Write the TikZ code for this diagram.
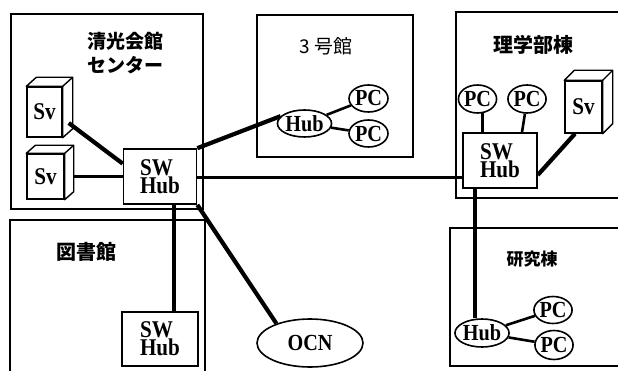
\documentclass[tikz,border=0pt]{standalone}
\usepackage{fontspec}
\setmainfont{Liberation Serif}
\newfontfamily\lat[FakeStretch=0.88]{Liberation Serif}
\newfontfamily\jp{Noto Sans CJK JP}
\usetikzlibrary{shapes.geometric,calc}
\begin{document}
\begin{tikzpicture}[x=1pt,y=-1pt,
  bldg/.style={line width=1.8pt},
  conn/.style={line width=4.2pt},
  mconn/.style={line width=3.2pt},
  pcconn/.style={line width=2.6pt},
  hubbox/.style={draw,line width=1.6pt,fill=white,inner sep=0pt,align=left,
    font=\lat\bfseries\fontsize{24}{18}\selectfont},
  ell/.style={ellipse,draw,line width=1.6pt,fill=white,inner sep=0pt,
    font=\lat\bfseries\fontsize{23}{23}\selectfont},
  svface/.style={draw,line width=1.4pt,fill=white,inner sep=0pt,
    font=\lat\bfseries\fontsize{24}{24}\selectfont},
  svedge/.style={draw,line width=1.4pt,fill=white,line join=round},
  ttl/.style={inner sep=0pt,font=\jp\bfseries\fontsize{19}{19}\selectfont}
]
\useasboundingbox (0,0) rectangle (618,371);
\fill[white] (0,0) rectangle (618,371);

% building outlines
\draw[bldg] (11,14) rectangle (203,209);
\draw[bldg] (10,371) -- (10,220) -- (205,220) -- (205,371);
\draw[bldg] (257,15) rectangle (413,157);
\draw[bldg] (618,12) -- (456,12) -- (456,198) -- (618,198);
\draw[bldg] (618,228) -- (450,228) -- (450,366) -- (618,366);

% titles
\node[ttl] (t1a) at (125,41) {清光会館};
\node[ttl] (t1b) at (125,65) {センター};
\node[ttl,font=\jp\fontsize{19}{19}\selectfont] (t3) at (326,46) {3 号館};
\node[ttl,font=\jp\bfseries\fontsize{20}{20}\selectfont] (tr) at (533,45) {理学部棟};
\node[ttl,font=\jp\bfseries\fontsize{20}{20}\selectfont] (tl) at (86,252) {図書館};
\node[ttl,font=\jp\bfseries\fontsize{17}{17}\selectfont] (tk) at (532,259) {研究棟};

% servers
\node[svface,minimum width=35pt,minimum height=50pt] (sv1) at (44.5,112) {Sv};
\draw[svedge] (sv1.north west) -- ++(10,-9) -| ($(sv1.south east)+(10,-9)$) -- (sv1.south east) -- (sv1.north east) -- cycle;
\draw[line width=1.4pt] (sv1.north east) -- ++(10,-9);

\node[svface,minimum width=37pt,minimum height=45pt] (sv2) at (45.5,176.5) {Sv};
\draw[svedge] (sv2.north west) -- ++(9,-8) -| ($(sv2.south east)+(9,-8)$) -- (sv2.south east) -- (sv2.north east) -- cycle;
\draw[line width=1.4pt] (sv2.north east) -- ++(9,-8);

\node[svface,minimum width=37pt,minimum height=52pt] (rsv) at (583.5,107) {Sv};
\draw[svedge] (rsv.north west) -- ++(10,-10) -| ($(rsv.south east)+(10,-10)$) -- (rsv.south east) -- (rsv.north east) -- cycle;
\draw[line width=1.4pt] (rsv.north east) -- ++(10,-10);

% switching hubs
\node[hubbox,minimum width=73pt,minimum height=55pt] (swhub) at (160,176.5) {SW\\Hub};
\node[hubbox,minimum width=76pt,minimum height=54pt] (lhub) at (160,339) {SW\\Hub};
\node[hubbox,minimum width=74pt,minimum height=55pt] (rhub) at (500,160.5) {SW\\Hub};

% ellipses
\node[ell,minimum width=51pt,minimum height=27pt] (h3hub) at (304.5,123.5) {Hub};
\node[ell,minimum width=39pt,minimum height=27pt] (h3pc1) at (368.5,98.5) {PC};
\node[ell,minimum width=39pt,minimum height=27pt] (h3pc2) at (368.5,133.5) {PC};
\node[ell,minimum width=32pt,minimum height=28pt] (rpc1) at (477.5,99) {PC};
\node[ell,minimum width=31pt,minimum height=28pt] (rpc2) at (527,99) {PC};
\node[ell,minimum width=52pt,minimum height=28pt] (khub) at (482,333) {Hub};
\node[ell,minimum width=33pt,minimum height=27pt] (kpc1) at (553,310) {PC};
\node[ell,minimum width=34pt,minimum height=29pt] (kpc2) at (554,345) {PC};
\node[ell,minimum width=106pt,minimum height=48pt] (ocn) at (310,343) {OCN};

% connections
\draw[conn] ($(sv1.east)+(6,11)$) -- (swhub.161);
\draw[mconn] ($(sv2.east)+(9,0)$) -- (swhub.west);
\draw[conn] (swhub.north east) -- (h3hub.163);
\draw[mconn] (swhub.east |- 0,177.5) -- (rhub.west |- 0,177.5);
\draw[conn] (swhub.south -| 174,0) -- (lhub.north -| 174,0);
\draw[conn] (swhub.south east) -- (ocn.150);
\draw[pcconn] (h3hub) -- (h3pc1);
\draw[pcconn] (h3hub) -- (h3pc2);
\draw[pcconn] (rpc1.-70) -- (rpc1.-70 |- rhub.north);
\draw[pcconn] (rpc2.-98) -- (rhub.north -| 522,0);
\draw[conn] (rsv.south -| 575,0) -- (rhub.east |- 0,175);
\draw[conn] (rhub.south -| 475,0) -- (khub.north -| 475,0);
\draw[pcconn] (khub) -- (kpc1);
\draw[pcconn] (khub) -- (kpc2);
\end{tikzpicture}
\end{document}
